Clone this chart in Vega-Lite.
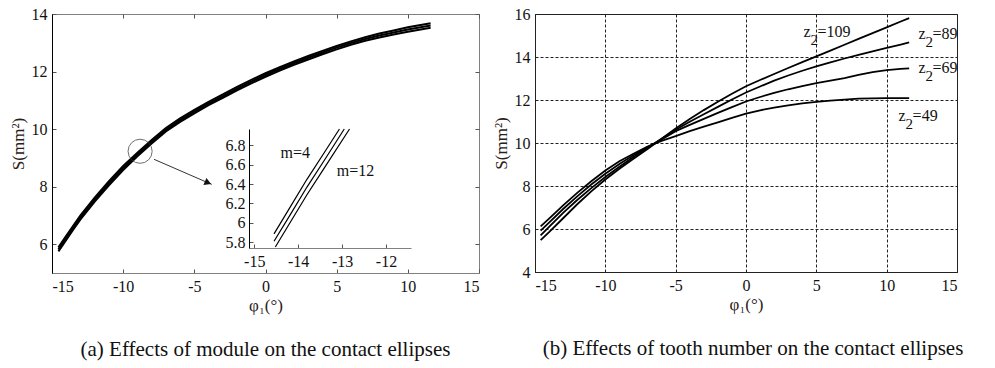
{
  "$schema": "https://vega.github.io/schema/vega-lite/v6.json",
  "background": "white",
  "padding": {"left": 8, "top": 5, "right": 5, "bottom": 2},
  "config": {
    "font": "Liberation Serif",
    "view": {"stroke": null},
    "axis": {
      "labelFont": "Liberation Serif", "titleFont": "Liberation Serif",
      "labelFontSize": 16, "titleFontSize": 17, "titleFontWeight": "normal",
      "labelColor": "#111111", "titleColor": "#2b2018",
      "grid": false, "tickSize": -4, "tickColor": "#555555", "domainColor": "#808080",
      "labelExpr": "'' + datum.value"
    }
  },
  "datasets": {
    "left": [
      {"m":"m=4","x":-14.55,"y":5.89},{"m":"m=4","x":-14,"y":6.29},{"m":"m=4","x":-13.5,"y":6.65},{"m":"m=4","x":-13,"y":7.0},{"m":"m=4","x":-12,"y":7.62},{"m":"m=4","x":-11,"y":8.19},{"m":"m=4","x":-10,"y":8.72},{"m":"m=4","x":-9,"y":9.18},{"m":"m=4","x":-8,"y":9.62},{"m":"m=4","x":-7,"y":10.04},{"m":"m=4","x":-6,"y":10.37},{"m":"m=4","x":-5,"y":10.67},{"m":"m=4","x":-4,"y":10.95},{"m":"m=4","x":-3,"y":11.21},{"m":"m=4","x":-2,"y":11.47},{"m":"m=4","x":-1,"y":11.71},{"m":"m=4","x":0,"y":11.94},{"m":"m=4","x":1,"y":12.15},{"m":"m=4","x":2,"y":12.35},{"m":"m=4","x":3,"y":12.54},{"m":"m=4","x":4,"y":12.72},{"m":"m=4","x":5,"y":12.89},{"m":"m=4","x":6,"y":13.05},{"m":"m=4","x":7,"y":13.19},{"m":"m=4","x":8,"y":13.32},{"m":"m=4","x":9,"y":13.43},{"m":"m=4","x":10,"y":13.54},{"m":"m=4","x":11,"y":13.63},{"m":"m=4","x":11.6,"y":13.68},
      {"m":"m=8","x":-14.55,"y":5.82},{"m":"m=8","x":-14,"y":6.22},{"m":"m=8","x":-13.5,"y":6.58},{"m":"m=8","x":-13,"y":6.93},{"m":"m=8","x":-12,"y":7.55},{"m":"m=8","x":-11,"y":8.12},{"m":"m=8","x":-10,"y":8.65},{"m":"m=8","x":-9,"y":9.12},{"m":"m=8","x":-8,"y":9.56},{"m":"m=8","x":-7,"y":9.98},{"m":"m=8","x":-6,"y":10.31},{"m":"m=8","x":-5,"y":10.61},{"m":"m=8","x":-4,"y":10.89},{"m":"m=8","x":-3,"y":11.15},{"m":"m=8","x":-2,"y":11.41},{"m":"m=8","x":-1,"y":11.65},{"m":"m=8","x":0,"y":11.88},{"m":"m=8","x":1,"y":12.09},{"m":"m=8","x":2,"y":12.29},{"m":"m=8","x":3,"y":12.48},{"m":"m=8","x":4,"y":12.66},{"m":"m=8","x":5,"y":12.83},{"m":"m=8","x":6,"y":12.99},{"m":"m=8","x":7,"y":13.13},{"m":"m=8","x":8,"y":13.25},{"m":"m=8","x":9,"y":13.36},{"m":"m=8","x":10,"y":13.46},{"m":"m=8","x":11,"y":13.55},{"m":"m=8","x":11.6,"y":13.6},
      {"m":"m=12","x":-14.55,"y":5.75},{"m":"m=12","x":-14,"y":6.15},{"m":"m=12","x":-13.5,"y":6.51},{"m":"m=12","x":-13,"y":6.86},{"m":"m=12","x":-12,"y":7.48},{"m":"m=12","x":-11,"y":8.05},{"m":"m=12","x":-10,"y":8.58},{"m":"m=12","x":-9,"y":9.06},{"m":"m=12","x":-8,"y":9.5},{"m":"m=12","x":-7,"y":9.92},{"m":"m=12","x":-6,"y":10.25},{"m":"m=12","x":-5,"y":10.55},{"m":"m=12","x":-4,"y":10.83},{"m":"m=12","x":-3,"y":11.09},{"m":"m=12","x":-2,"y":11.35},{"m":"m=12","x":-1,"y":11.59},{"m":"m=12","x":0,"y":11.82},{"m":"m=12","x":1,"y":12.03},{"m":"m=12","x":2,"y":12.23},{"m":"m=12","x":3,"y":12.42},{"m":"m=12","x":4,"y":12.6},{"m":"m=12","x":5,"y":12.77},{"m":"m=12","x":6,"y":12.93},{"m":"m=12","x":7,"y":13.07},{"m":"m=12","x":8,"y":13.18},{"m":"m=12","x":9,"y":13.29},{"m":"m=12","x":10,"y":13.38},{"m":"m=12","x":11,"y":13.47},{"m":"m=12","x":11.6,"y":13.52}
    ],
    "inset": [
      {"m":"m=4","x":-14.55,"y":5.886},{"m":"m=4","x":-14.2,"y":6.15},{"m":"m=4","x":-13.8,"y":6.45},{"m":"m=4","x":-13.4,"y":6.73},{"m":"m=4","x":-13.06,"y":6.97},
      {"m":"m=8","x":-14.55,"y":5.81},{"m":"m=8","x":-14.2,"y":6.07},{"m":"m=8","x":-13.8,"y":6.37},{"m":"m=8","x":-13.4,"y":6.65},{"m":"m=8","x":-12.95,"y":6.97},
      {"m":"m=12","x":-14.52,"y":5.75},{"m":"m=12","x":-14.2,"y":5.99},{"m":"m=12","x":-13.8,"y":6.29},{"m":"m=12","x":-13.4,"y":6.57},{"m":"m=12","x":-12.83,"y":6.97}
    ],
    "insetLabels": [
      {"label":"m=4","x":-14.4,"y":6.67},
      {"label":"m=12","x":-13.12,"y":6.48}
    ],
    "circle": [{"x":-8.81,"y":9.23}],
    "arrow": [{"x":-7.83,"y":8.95,"x2":-3.78,"y2":8.08}],
    "arrowHead": [{"x":-4.04,"y":8.135}],
    "right": [
      {"z":"z2=49","x":-14.6,"y":6.12},{"z":"z2=49","x":-14,"y":6.48},{"z":"z2=49","x":-13,"y":7.1},{"z":"z2=49","x":-12,"y":7.68},{"z":"z2=49","x":-11,"y":8.22},{"z":"z2=49","x":-10,"y":8.72},{"z":"z2=49","x":-9,"y":9.15},{"z":"z2=49","x":-8,"y":9.5},{"z":"z2=49","x":-7,"y":9.83},{"z":"z2=49","x":-6,"y":10.1},{"z":"z2=49","x":-5,"y":10.32},{"z":"z2=49","x":-4,"y":10.55},{"z":"z2=49","x":-3,"y":10.76},{"z":"z2=49","x":-2,"y":10.96},{"z":"z2=49","x":-1,"y":11.17},{"z":"z2=49","x":0,"y":11.37},{"z":"z2=49","x":1,"y":11.52},{"z":"z2=49","x":2,"y":11.65},{"z":"z2=49","x":3,"y":11.75},{"z":"z2=49","x":4,"y":11.84},{"z":"z2=49","x":5,"y":11.91},{"z":"z2=49","x":6,"y":11.97},{"z":"z2=49","x":7,"y":12.02},{"z":"z2=49","x":8,"y":12.06},{"z":"z2=49","x":9,"y":12.08},{"z":"z2=49","x":10,"y":12.09},{"z":"z2=49","x":11,"y":12.09},{"z":"z2=49","x":11.6,"y":12.09},
      {"z":"z2=69","x":-14.6,"y":5.92},{"z":"z2=69","x":-14,"y":6.3},{"z":"z2=69","x":-13,"y":6.93},{"z":"z2=69","x":-12,"y":7.52},{"z":"z2=69","x":-11,"y":8.07},{"z":"z2=69","x":-10,"y":8.57},{"z":"z2=69","x":-9,"y":9.02},{"z":"z2=69","x":-8,"y":9.43},{"z":"z2=69","x":-7,"y":9.8},{"z":"z2=69","x":-6,"y":10.16},{"z":"z2=69","x":-5,"y":10.55},{"z":"z2=69","x":-4,"y":10.84},{"z":"z2=69","x":-3,"y":11.12},{"z":"z2=69","x":-2,"y":11.4},{"z":"z2=69","x":-1,"y":11.67},{"z":"z2=69","x":0,"y":11.93},{"z":"z2=69","x":1,"y":12.14},{"z":"z2=69","x":2,"y":12.33},{"z":"z2=69","x":3,"y":12.5},{"z":"z2=69","x":4,"y":12.65},{"z":"z2=69","x":5,"y":12.78},{"z":"z2=69","x":6,"y":12.9},{"z":"z2=69","x":7,"y":13.02},{"z":"z2=69","x":8,"y":13.17},{"z":"z2=69","x":9,"y":13.3},{"z":"z2=69","x":10,"y":13.39},{"z":"z2=69","x":11,"y":13.45},{"z":"z2=69","x":11.6,"y":13.47},
      {"z":"z2=89","x":-14.6,"y":5.7},{"z":"z2=89","x":-14,"y":6.1},{"z":"z2=89","x":-13,"y":6.75},{"z":"z2=89","x":-12,"y":7.35},{"z":"z2=89","x":-11,"y":7.9},{"z":"z2=89","x":-10,"y":8.42},{"z":"z2=89","x":-9,"y":8.9},{"z":"z2=89","x":-8,"y":9.35},{"z":"z2=89","x":-7,"y":9.78},{"z":"z2=89","x":-6,"y":10.2},{"z":"z2=89","x":-5,"y":10.62},{"z":"z2=89","x":-4,"y":10.99},{"z":"z2=89","x":-3,"y":11.34},{"z":"z2=89","x":-2,"y":11.68},{"z":"z2=89","x":-1,"y":12.02},{"z":"z2=89","x":0,"y":12.35},{"z":"z2=89","x":1,"y":12.63},{"z":"z2=89","x":2,"y":12.9},{"z":"z2=89","x":3,"y":13.14},{"z":"z2=89","x":4,"y":13.36},{"z":"z2=89","x":5,"y":13.56},{"z":"z2=89","x":6,"y":13.75},{"z":"z2=89","x":7,"y":13.93},{"z":"z2=89","x":8,"y":14.1},{"z":"z2=89","x":9,"y":14.26},{"z":"z2=89","x":10,"y":14.42},{"z":"z2=89","x":11,"y":14.58},{"z":"z2=89","x":11.6,"y":14.68},
      {"z":"z2=109","x":-14.6,"y":5.48},{"z":"z2=109","x":-14,"y":5.85},{"z":"z2=109","x":-13,"y":6.5},{"z":"z2=109","x":-12,"y":7.15},{"z":"z2=109","x":-11,"y":7.75},{"z":"z2=109","x":-10,"y":8.3},{"z":"z2=109","x":-9,"y":8.8},{"z":"z2=109","x":-8,"y":9.27},{"z":"z2=109","x":-7,"y":9.72},{"z":"z2=109","x":-6,"y":10.2},{"z":"z2=109","x":-5,"y":10.68},{"z":"z2=109","x":-4,"y":11.12},{"z":"z2=109","x":-3,"y":11.53},{"z":"z2=109","x":-2,"y":11.92},{"z":"z2=109","x":-1,"y":12.29},{"z":"z2=109","x":0,"y":12.64},{"z":"z2=109","x":1,"y":12.93},{"z":"z2=109","x":2,"y":13.21},{"z":"z2=109","x":3,"y":13.49},{"z":"z2=109","x":4,"y":13.76},{"z":"z2=109","x":5,"y":14.03},{"z":"z2=109","x":6,"y":14.3},{"z":"z2=109","x":7,"y":14.57},{"z":"z2=109","x":8,"y":14.84},{"z":"z2=109","x":9,"y":15.11},{"z":"z2=109","x":10,"y":15.38},{"z":"z2=109","x":11,"y":15.65},{"z":"z2=109","x":11.6,"y":15.81}
    ],
    "rightLabels": [
      {"rest":"=109","x":4.09,"y":14.95},
      {"rest":"=89","x":12.27,"y":14.82},
      {"rest":"=69","x":12.27,"y":13.27},
      {"rest":"=49","x":10.85,"y":11.04}
    ]
  },
  "spacing": 56,
  "bounds": "flush",
  "hconcat": [
    {
      "width": 427,
      "height": 259,
      "view": {"stroke": "#808080"},
      "title": {"text": "(a) Effects of module on the contact ellipses", "orient": "bottom", "anchor": "middle", "frame": "group", "font": "Liberation Serif", "fontSize": 21, "fontWeight": "normal", "color": "#111111", "offset": 26},
      "resolve": {"scale": {"x": "independent", "y": "independent"}, "axis": {"x": "independent", "y": "independent"}},
      "layer": [
        {
          "resolve": {"axis": {"x": "independent", "y": "independent"}},
          "layer": [
            {
              "data": {"name": "left"},
              "mark": {"type": "line", "color": "#000000", "strokeWidth": 2},
              "encoding": {
                "x": {"field": "x", "type": "quantitative", "scale": {"domain": [-15, 15], "nice": false, "zero": false},
                      "axis": {"orient": "bottom", "values": [-15, -10, -5, 0, 5, 10, 15], "title": "φ₁(°)", "labelPadding": 9, "titlePadding": 3}},
                "y": {"field": "y", "type": "quantitative", "scale": {"domain": [5, 14], "nice": false, "zero": false},
                      "axis": {"orient": "left", "values": [6, 8, 10, 12, 14], "title": "S(mm²)", "domainColor": "#000000", "labelPadding": 9, "titlePadding": 4}},
                "detail": {"field": "m"}
              }
            },
            {
              "data": {"name": "left"},
              "mark": {"type": "point", "opacity": 0},
              "encoding": {
                "x": {"field": "x", "type": "quantitative", "axis": {"orient": "top", "values": [-15, -10, -5, 0, 5, 10, 15], "labels": false, "title": null, "domain": false}},
                "y": {"field": "y", "type": "quantitative", "axis": {"orient": "right", "values": [6, 8, 10, 12, 14], "labels": false, "title": null, "domain": false}}
              }
            },
            {
              "data": {"name": "circle"},
              "mark": {"type": "point", "shape": "circle", "filled": false, "size": 580, "stroke": "#333333", "strokeWidth": 1},
              "encoding": {
                "x": {"field": "x", "type": "quantitative", "axis": null},
                "y": {"field": "y", "type": "quantitative", "axis": null}
              }
            },
            {
              "data": {"name": "arrow"},
              "mark": {"type": "rule", "color": "#333333", "strokeWidth": 1},
              "encoding": {
                "x": {"field": "x", "type": "quantitative", "axis": null},
                "y": {"field": "y", "type": "quantitative", "axis": null},
                "x2": {"field": "x2"},
                "y2": {"field": "y2"}
              }
            },
            {
              "data": {"name": "arrowHead"},
              "mark": {"type": "point", "shape": "triangle-right", "filled": true, "size": 60, "color": "#111111", "angle": 23, "opacity": 1},
              "encoding": {
                "x": {"field": "x", "type": "quantitative", "axis": null},
                "y": {"field": "y", "type": "quantitative", "axis": null}
              }
            }
          ]
        },
        {
          "layer": [
            {
              "data": {"name": "inset"},
              "mark": {"type": "line", "color": "#000000", "strokeWidth": 1.2},
              "encoding": {
                "x": {"field": "x", "type": "quantitative", "scale": {"domain": [-15.12, -11.43], "range": [197, 359], "nice": false, "zero": false},
                      "axis": {"orient": "bottom", "offset": -25, "values": [-15, -14, -13, -12], "title": null, "labelPadding": 9}},
                "y": {"field": "y", "type": "quantitative", "scale": {"domain": [5.74, 6.97], "range": [234, 115], "nice": false, "zero": false},
                      "axis": {"orient": "left", "offset": -197, "values": [5.8, 6, 6.2, 6.4, 6.6, 6.8], "title": null, "domainColor": "#000000", "labelPadding": 8}},
                "detail": {"field": "m"}
              }
            },
            {
              "data": {"name": "insetLabels"},
              "mark": {"type": "text", "align": "left", "baseline": "alphabetic", "font": "Liberation Serif", "fontSize": 16, "color": "#111111"},
              "encoding": {
                "x": {"field": "x", "type": "quantitative"},
                "y": {"field": "y", "type": "quantitative"},
                "text": {"field": "label"}
              }
            }
          ]
        }
      ]
    },
    {
      "width": 422,
      "height": 258,
      "view": {"stroke": "#222222"},
      "title": {"text": "(b) Effects of tooth number on the contact ellipses", "orient": "bottom", "anchor": "middle", "frame": "group", "dx": 7, "font": "Liberation Serif", "fontSize": 21, "fontWeight": "normal", "color": "#111111", "offset": 26},
      "layer": [
        {
          "data": {"name": "right"},
          "mark": {"type": "line", "color": "#000000", "strokeWidth": 1.8},
          "encoding": {
            "x": {"field": "x", "type": "quantitative", "scale": {"domain": [-15, 15], "nice": false, "zero": false},
                  "axis": {"orient": "bottom", "values": [-15, -10, -5, 0, 5, 10, 15], "title": "φ₁(°)", "grid": true, "gridDash": [3, 2], "gridColor": "#222222", "gridWidth": 1, "domainColor": "#222222", "tickSize": 0, "labelPadding": 5, "titlePadding": 3}},
            "y": {"field": "y", "type": "quantitative", "scale": {"domain": [4, 16], "nice": false, "zero": false},
                  "axis": {"orient": "left", "values": [4, 6, 8, 10, 12, 14, 16], "title": "S(mm²)", "grid": true, "gridDash": [3, 2], "gridColor": "#222222", "gridWidth": 1, "domainColor": "#222222", "tickSize": 0, "labelPadding": 5, "titlePadding": 4}},
            "detail": {"field": "z"}
          }
        },
        {
          "data": {"name": "rightLabels"},
          "mark": {"type": "text", "align": "left", "baseline": "alphabetic", "font": "Liberation Serif", "fontSize": 16, "color": "#111111", "text": "z"},
          "encoding": {
            "x": {"field": "x", "type": "quantitative"},
            "y": {"field": "y", "type": "quantitative"}
          }
        },
        {
          "data": {"name": "rightLabels"},
          "mark": {"type": "text", "align": "left", "baseline": "alphabetic", "font": "Liberation Serif", "fontSize": 15, "color": "#111111", "text": "2", "dx": 7, "dy": 8},
          "encoding": {
            "x": {"field": "x", "type": "quantitative"},
            "y": {"field": "y", "type": "quantitative"}
          }
        },
        {
          "data": {"name": "rightLabels"},
          "mark": {"type": "text", "align": "left", "baseline": "alphabetic", "font": "Liberation Serif", "fontSize": 16, "color": "#111111", "dx": 14},
          "encoding": {
            "x": {"field": "x", "type": "quantitative"},
            "y": {"field": "y", "type": "quantitative"},
            "text": {"field": "rest"}
          }
        }
      ]
    }
  ]
}
